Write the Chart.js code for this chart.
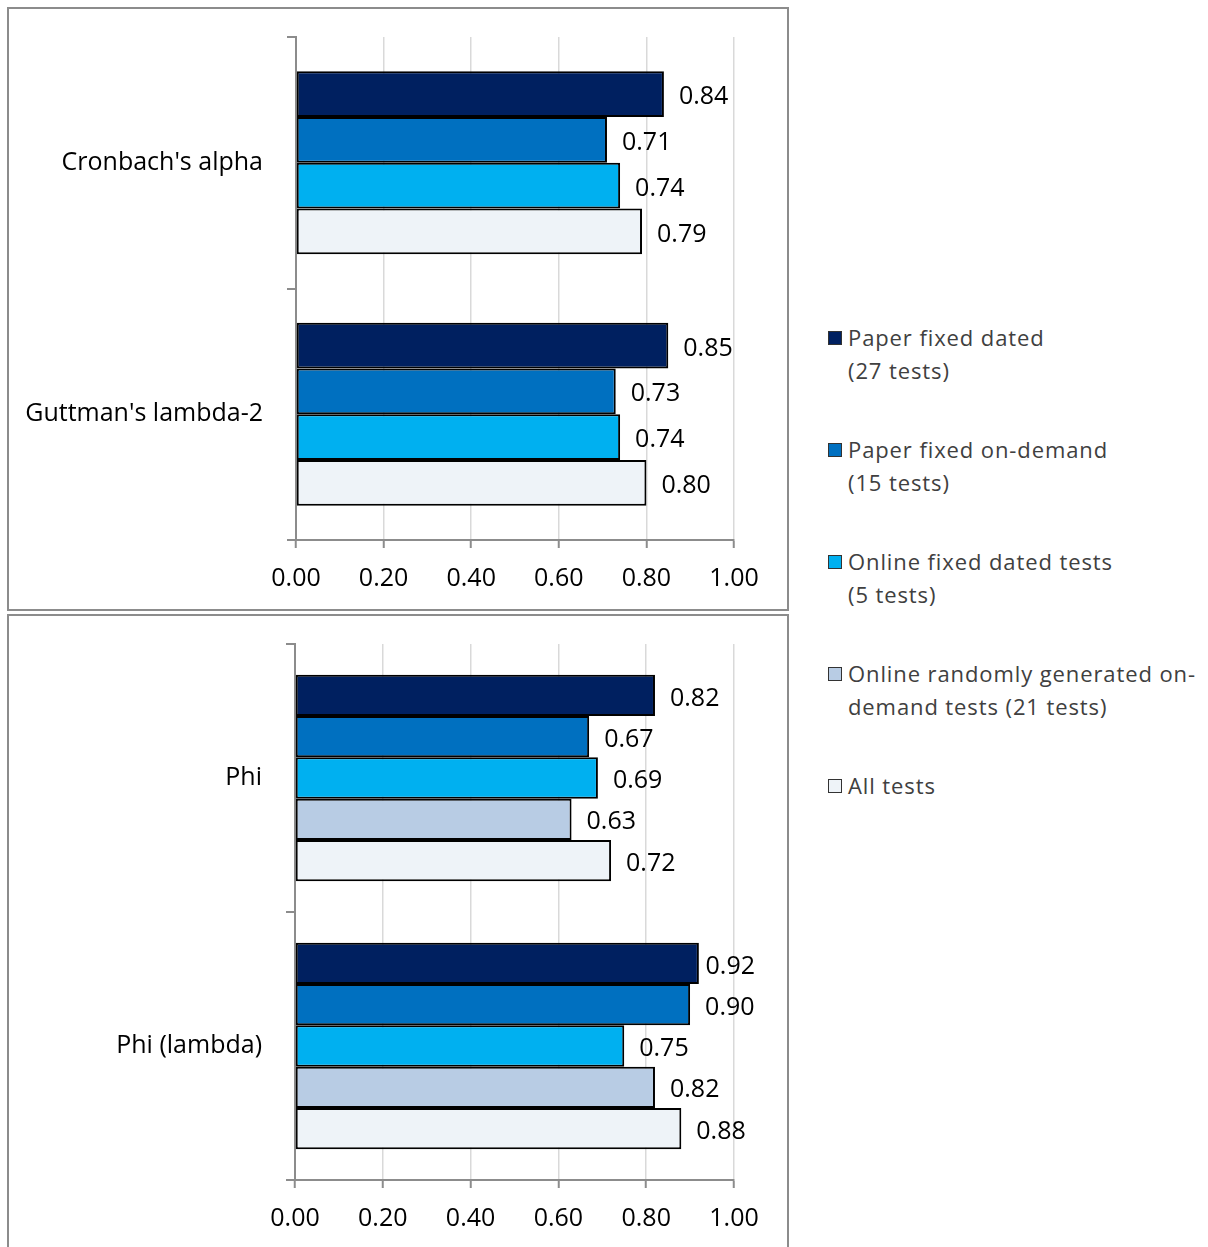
<!DOCTYPE html>
<html>
<head>
<meta charset="utf-8">
<script src="https://cdn.jsdelivr.net/npm/chart.js@4.4.1/dist/chart.umd.min.js"></script>
<style>
html,body{margin:0;padding:0;background:#fff;}
body{width:1208px;height:1247px;position:relative;overflow:hidden;font-family:"Open Sans",sans-serif;}
.panel{position:absolute;left:7px;width:778px;border:2px solid #8c8c8c;background:#fff;}
#p1{top:7px;height:600px;}
#p2{top:614px;height:640px;}
.panel canvas{display:block;}
.lt{position:absolute;left:848px;white-space:pre;font-size:22px;letter-spacing:0.9px;color:#404040;line-height:33px;}
.lb{position:absolute;left:828px;width:12px;height:12px;border:1px solid #333;}
</style>
</head>
<body>
<div class="panel" id="p1"><canvas id="c1" width="778" height="600"></canvas></div>
<div class="panel" id="p2"><canvas id="c2" width="778" height="640"></canvas></div>
<div id="legend"></div>
<script>
// ---- data ----
const topCategories = ["Cronbach's alpha", "Guttman's lambda-2"];
const bottomCategories = ["Phi", "Phi (lambda)"];
const seriesNames = [
  "Paper fixed dated\n(27 tests)",
  "Paper fixed on-demand\n(15 tests)",
  "Online fixed dated tests\n(5 tests)",
  "Online randomly generated on-\ndemand tests (21 tests)",
  "All tests"
];
const seriesColors = ["#002060", "#0070C0", "#00B0F0", "#B8CCE4", "#EEF3F8"];
// top chart (no "Online randomly generated" series)
const topPaperFixedDated = [0.84, 0.85];
const topPaperFixedOnDemand = [0.71, 0.73];
const topOnlineFixedDated = [0.74, 0.74];
const topAllTests = [0.79, 0.80];
// bottom chart
const botPaperFixedDated = [0.82, 0.92];
const botPaperFixedOnDemand = [0.67, 0.90];
const botOnlineFixedDated = [0.69, 0.75];
const botOnlineRandom = [0.63, 0.82];
const botAllTests = [0.72, 0.88];
const xTicks = [0, 0.2, 0.4, 0.6, 0.8, 1.0];

const FONT = '"Open Sans", sans-serif';

const valueLabels = {
  id: 'valueLabels',
  afterDatasetsDraw(chart) {
    const ctx = chart.ctx;
    ctx.save();
    ctx.font = '25px ' + FONT;
    ctx.fillStyle = '#000';
    ctx.textBaseline = 'middle';
    ctx.textAlign = 'left';
    chart.data.datasets.forEach((ds, i) => {
      chart.getDatasetMeta(i).data.forEach((bar, j) => {
        const t = ds.data[j].toFixed(2);
        const w = ctx.measureText(t).width;
        let x = bar.x + 15;
        const maxX = chart.chartArea.right + 21;
        if (x + w > maxX) x = maxX - w;
        ctx.fillText(t, x, bar.y + 3);
      });
    });
    ctx.restore();
  }
};

function ds(label, data, color) {
  return {
    label, data, backgroundColor: color, borderColor: '#000', borderWidth: 2,
    borderSkipped: false, barPercentage: 1.0
  };
}

function makeChart(id, cats, datasets, catPct, pad, yWidth, xHeight) {
  datasets.forEach(d => d.categoryPercentage = catPct);
  return new Chart(document.getElementById(id), {
    type: 'bar',
    data: { labels: cats, datasets },
    options: {
      indexAxis: 'y',
      responsive: false,
      animation: false,
      layout: { padding: pad },
      plugins: { legend: { display: false }, tooltip: { enabled: false } },
      scales: {
        x: {
          min: 0, max: 1,
          afterBuildTicks: s => { s.ticks = xTicks.map(v => ({ value: v })); },
          afterFit: s => { s.height = xHeight; s.paddingLeft = 0; s.paddingRight = 0; },
          ticks: {
            callback: v => Number(v).toFixed(2),
            font: { size: 25, family: FONT }, color: '#000', padding: 16, maxRotation: 0
          },
          grid: { color: '#d9d9d9', lineWidth: 1.5, tickColor: '#8c8c8c', tickLength: 8, tickWidth: 2 },
          border: { display: true, color: '#8c8c8c', width: 2 }
        },
        y: {
          afterFit: s => { s.width = yWidth; s.paddingTop = 0; s.paddingBottom = 0; },
          ticks: { font: { size: 25, family: FONT }, color: '#000', padding: 24 },
          grid: { offset: true, drawOnChartArea: false, color: '#8c8c8c', tickLength: 9, lineWidth: 2 },
          border: { display: true, color: '#8c8c8c', width: 2 }
        }
      }
    },
    plugins: [valueLabels]
  });
}

makeChart('c1', topCategories, [
  ds(seriesNames[0], topPaperFixedDated, seriesColors[0]),
  ds(seriesNames[1], topPaperFixedOnDemand, seriesColors[1]),
  ds(seriesNames[2], topOnlineFixedDated, seriesColors[2]),
  ds(seriesNames[4], topAllTests, seriesColors[4])
], 0.728, { top: 28, right: 53, left: 0, bottom: 0 }, 287, 69);

makeChart('c2', bottomCategories, [
  ds(seriesNames[0], botPaperFixedDated, seriesColors[0]),
  ds(seriesNames[1], botPaperFixedOnDemand, seriesColors[1]),
  ds(seriesNames[2], botOnlineFixedDated, seriesColors[2]),
  ds(seriesNames[3], botOnlineRandom, seriesColors[3]),
  ds(seriesNames[4], botAllTests, seriesColors[4])
], 0.77, { top: 28, right: 53, left: 0, bottom: 0 }, 286, 76);

// legend (HTML)
const leg = document.getElementById('legend');
seriesNames.forEach((name, i) => {
  const c = 338 + 112 * i;
  const b = document.createElement('div');
  b.className = 'lb';
  b.style.top = (c - 7) + 'px';
  b.style.background = seriesColors[i];
  leg.appendChild(b);
  const t = document.createElement('div');
  t.className = 'lt';
  t.style.top = (c - 17) + 'px';
  t.textContent = name;
  leg.appendChild(t);
});
</script>
</body>
</html>
